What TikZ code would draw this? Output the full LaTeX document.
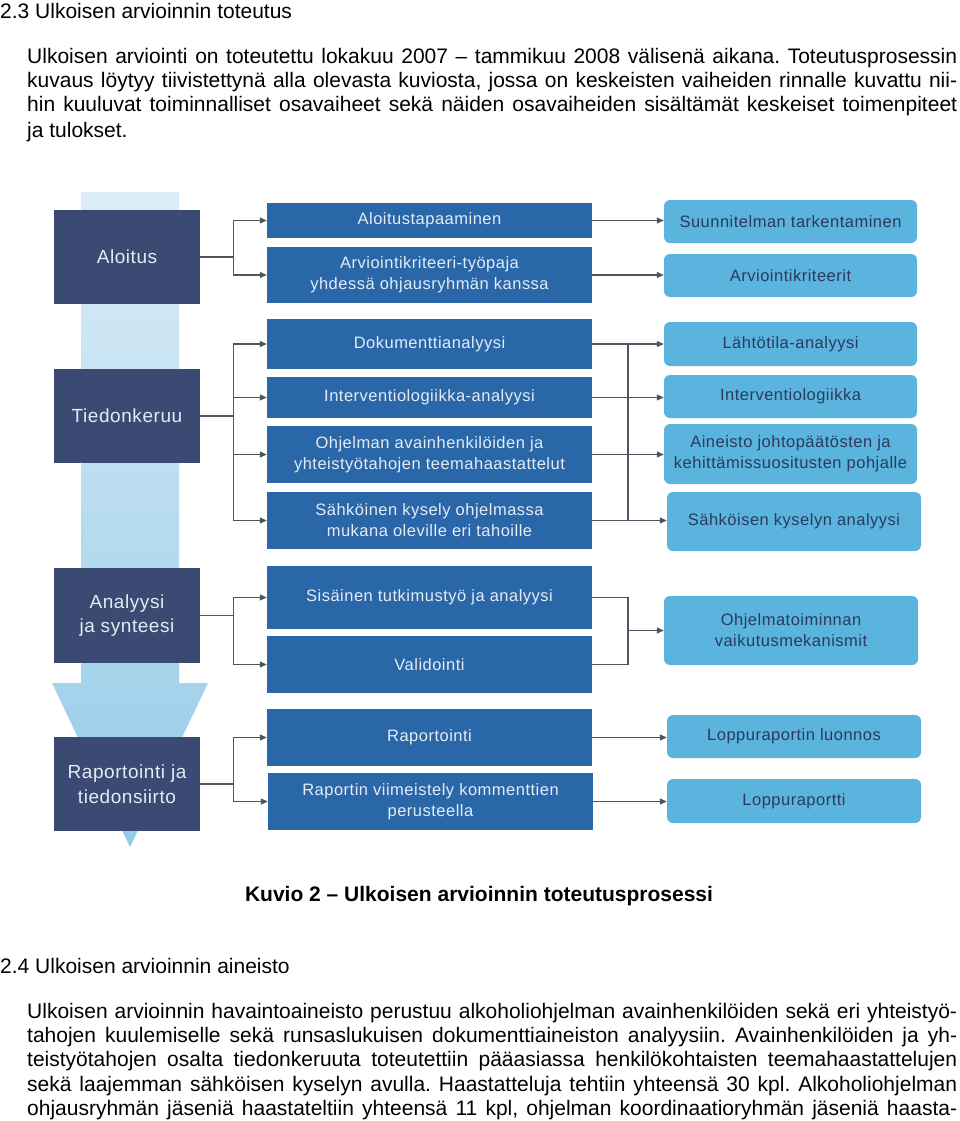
\documentclass[tikz,border=0pt]{standalone}
\usepackage{fontspec}
\setmainfont{Liberation Sans}
\newfontfamily\diagfont[LetterSpace=3]{Liberation Sans}
\usetikzlibrary{arrows.meta,calc}
\definecolor{stagec}{HTML}{3A4A72}
\definecolor{midc}{HTML}{2A67A9}
\definecolor{rightc}{HTML}{5BB4DE}
\definecolor{rtext}{HTML}{2B3A5E}
\definecolor{ltext}{HTML}{E4EBF4}
\definecolor{linec}{HTML}{4F5462}
\definecolor{bandtop}{HTML}{DCEDF7}
\definecolor{bandbot}{HTML}{93CBE7}
\frenchspacing
\begin{document}
\begin{tikzpicture}[x=1pt,y=-1pt,
 stagebox/.style={fill=stagec, text=ltext, minimum width=146pt, inner sep=0pt, align=center, font=\diagfont\fontsize{19}{24.5}\selectfont},
 midbox/.style={fill=midc, text=ltext, minimum width=325pt, inner sep=0pt, align=center, font=\diagfont\fontsize{16.5}{21}\selectfont},
 resbox/.style={fill=rightc, text=rtext, rounded corners=6pt, minimum width=253pt, inner sep=0pt, align=center, font=\diagfont\fontsize{16.5}{21}\selectfont},
 conn/.style={draw=linec, line width=1.2pt},
 arr/.style={conn, -{Triangle[length=7pt,width=6pt]}},
 bodytxt/.style={anchor=base west, inner sep=0pt, font=\fontsize{21}{24.5}\selectfont},
]
\useasboundingbox[fill=white] (0,0) rectangle (960,1121);

% texts
\node[bodytxt] (h1) at (0,19) {2.3 Ulkoisen arvioinnin toteutus};
\node[bodytxt] (p1a) at (27,64) {\makebox[930pt][s]{Ulkoisen arviointi on toteutettu lokakuu 2007 – tammikuu 2008 välisenä aikana. Toteutusprosessin}};
\node[bodytxt] (p1b) at (27,88) {\makebox[930pt][s]{kuvaus löytyy tiivistettynä alla olevasta kuviosta, jossa on keskeisten vaiheiden rinnalle kuvattu nii-}};
\node[bodytxt] (p1c) at (27,112) {\makebox[930pt][s]{hin kuuluvat toiminnalliset osavaiheet sekä näiden osavaiheiden sisältämät keskeiset toimenpiteet}};
\node[bodytxt] (p1d) at (27,137) {ja tulokset.};

\node[bodytxt, anchor=base, font=\bfseries\fontsize{21}{24.5}\selectfont] (cap) at (479,901) {Kuvio 2 – Ulkoisen arvioinnin toteutusprosessi};

\node[bodytxt] (h2) at (0,973) {2.4 Ulkoisen arvioinnin aineisto};
\node[bodytxt] (p2a) at (27,1018) {\makebox[930pt][s]{Ulkoisen arvioinnin havaintoaineisto perustuu alkoholiohjelman avainhenkilöiden sekä eri yhteistyö-}};
\node[bodytxt] (p2b) at (27,1042) {\makebox[930pt][s]{tahojen kuulemiselle sekä runsaslukuisen dokumenttiaineiston analyysiin. Avainhenkilöiden ja yh-}};
\node[bodytxt] (p2c) at (27,1066) {\makebox[930pt][s]{teistyötahojen osalta tiedonkeruuta toteutettiin pääasiassa henkilökohtaisten teemahaastattelujen}};
\node[bodytxt] (p2d) at (27,1091) {\makebox[930pt][s]{sekä laajemman sähköisen kyselyn avulla. Haastatteluja tehtiin yhteensä 30 kpl. Alkoholiohjelman}};
\node[bodytxt] (p2e) at (27,1115) {\makebox[930pt][s]{ohjausryhmän jäseniä haastateltiin yhteensä 11 kpl, ohjelman koordinaatioryhmän jäseniä haasta-}};

% band arrow
\shade[top color=bandtop, bottom color=bandbot] (81,192) -- (179,192) -- (179,683) -- (208,683) -- (130,847) -- (52,683) -- (81,683) -- cycle;

% stage boxes
\node[stagebox, minimum height=94pt] (s1) at (127,257) {Aloitus};
\node[stagebox, minimum height=94pt] (s2) at (127,416) {Tiedonkeruu};
\node[stagebox, minimum height=95pt] (s3) at (127,615.5) {Analyysi\\ja synteesi};
\node[stagebox, minimum height=94pt] (s4) at (127,784) {Raportointi ja\\tiedonsiirto};

% middle boxes
\node[midbox, minimum height=35pt] (m1) at (429.5,220.5) {Aloitustapaaminen};
\node[midbox, minimum height=56pt] (m2) at (429.5,275) {Arviointikriteeri-työpaja\\yhdessä ohjausryhmän kanssa};
\node[midbox, minimum height=50pt] (m3) at (429.5,344) {Dokumenttianalyysi};
\node[midbox, minimum height=41pt] (m4) at (429.5,397.5) {Interventiologiikka-analyysi};
\node[midbox, minimum height=57pt] (m5) at (429.5,454.5) {Ohjelman avainhenkilöiden ja\\yhteistyötahojen teemahaastattelut};
\node[midbox, minimum height=57pt] (m6) at (429.5,520.5) {Sähköinen kysely ohjelmassa\\mukana oleville eri tahoille};
\node[midbox, minimum height=63pt] (m7) at (429.5,597.5) {Sisäinen tutkimustyö ja analyysi};
\node[midbox, minimum height=57pt] (m8) at (429.5,664.5) {Validointi};
\node[midbox, minimum height=57pt] (m9) at (429.5,737.5) {Raportointi};
\node[midbox, minimum height=57pt] (m10) at (430.5,801.5) {Raportin viimeistely kommenttien\\perusteella};

% result boxes
\node[resbox, minimum height=43pt] (r1) at (790.5,221.5) {Suunnitelman tarkentaminen};
\node[resbox, minimum height=43pt] (r2) at (790.5,275.5) {Arviointikriteerit};
\node[resbox, minimum height=44pt] (r3) at (790.5,344) {Lähtötila-analyysi};
\node[resbox, minimum height=43pt] (r4) at (790.5,396.5) {Interventiologiikka};
\node[resbox, minimum height=60pt] (r5) at (790.5,454) {Aineisto johtopäätösten ja\\kehittämissuositusten pohjalle};
\node[resbox, minimum height=59pt, minimum width=254pt] (r6) at (794,521.5) {Sähköisen kyselyn analyysi};
\node[resbox, minimum height=69pt, minimum width=254pt] (r7) at (791,630.5) {Ohjelmatoiminnan\\vaikutusmekanismit};
\node[resbox, minimum height=43pt, minimum width=254pt] (r8) at (794,736.5) {Loppuraportin luonnos};
\node[resbox, minimum height=44pt, minimum width=254pt] (r9) at (794,801) {Loppuraportti};

% left connectors
\draw[arr] (s1.east) -- ++(33,0) |- (m1.west);
\draw[arr] (s1.east) -- ++(33,0) |- (m2.west);
\draw[arr] (s2.east) -- ++(33,0) |- (m3.west);
\draw[arr] (s2.east) -- ++(33,0) |- (m4.west);
\draw[arr] (s2.east) -- ++(33,0) |- (m5.west);
\draw[arr] (s2.east) -- ++(33,0) |- (m6.west);
\draw[arr] (s3.east) -- ++(33,0) |- (m7.west);
\draw[arr] (s3.east) -- ++(33,0) |- (m8.west);
\draw[arr] (s4.east) -- ++(33,0) |- (m9.west);
\draw[arr] (s4.east) -- ++(33,0) |- (m10.west);

% right connectors
\coordinate (vx) at (628,0);
\draw[arr] (m1.east) -- (m1.east -| r1.west);
\draw[arr] (m2.east) -- (m2.east -| r2.west);
\draw[arr] (m3.east) -- (m3.east -| r3.west);
\draw[arr] (m4.east) -- (m4.east -| r4.west);
\draw[arr] (m5.east) -- (m5.east -| r5.west);
\draw[arr] (m6.east) -- (m6.east -| r6.west);
\draw[conn] (m3.east -| vx) -- (m6.east -| vx);
\draw[conn] (m7.east) -- (m7.east -| vx) -- (m8.east -| vx) -- (m8.east);
\draw[arr] (vx |- r7.west) -- (r7.west);
\draw[arr] (m9.east) -- (m9.east -| r8.west);
\draw[arr] (m10.east) -- (m10.east -| r9.west);
\end{tikzpicture}
\end{document}
